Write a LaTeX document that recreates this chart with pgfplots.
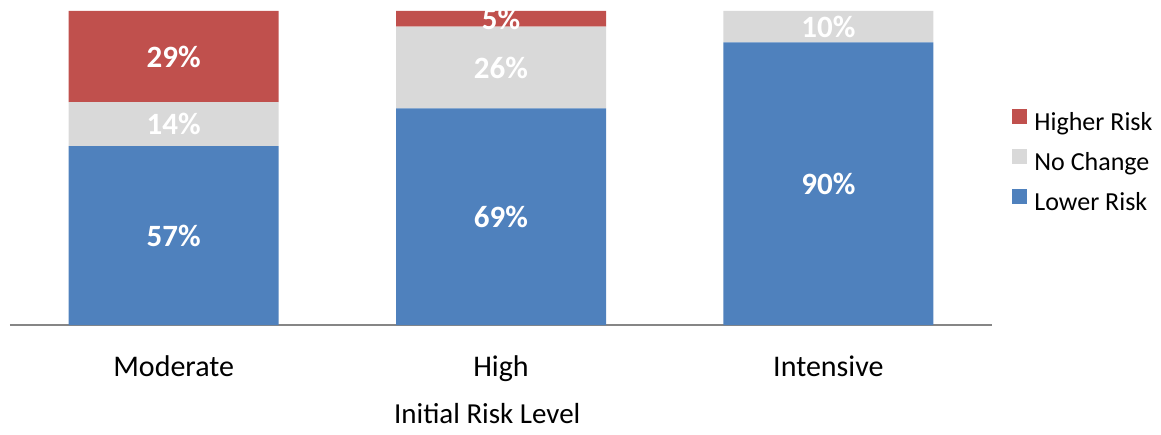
\documentclass[border=0pt]{standalone}
\usepackage{pgfplots}
\pgfplotsset{compat=1.18}
\usepackage{fontspec}
\setmainfont{Carlito}

\definecolor{lowblue}{HTML}{4F81BD}
\definecolor{nochgray}{HTML}{D9D9D9}
\definecolor{highred}{HTML}{C0504D}
\definecolor{axisgray}{HTML}{868686}

% shared geometry of the bar axis and the label overlay
\pgfplotsset{
  riskframe/.style={
    scale only axis,
    width=491pt, height=157pt,
    xmin=-0.5, xmax=2.5, ymin=0, ymax=100,
    at={(5pt,54.5pt)}, anchor=south west,
  },
}

\begin{document}
\begin{tikzpicture}
\path[use as bounding box] (0,0) rectangle (580.5pt,217pt);
\clip (0,0) rectangle (580.5pt,211.5pt);

\begin{axis}[
  riskframe,
  ybar stacked, bar width=105pt,
  axis x line*=bottom, axis y line=none,
  x axis line style={draw=axisgray, line width=0.8pt, -},
  xtick={0,1,2}, xticklabels={Moderate,High,Intensive},
  xtick style={draw=none},
  xticklabel style={font=\fontsize{15}{18}\selectfont, anchor=base, yshift=-25.8pt},
  xlabel={Initial Risk Level},
  xlabel style={font=\fontsize{14.5}{17}\selectfont, at={(axis description cs:0.486,0)}, anchor=base, yshift=-49pt},
  legend style={draw=none, fill=none, at={(axis description cs:1.0204,0.688)}, anchor=north west,
    inner sep=0pt, font=\fontsize{13}{15}\selectfont, cells={anchor=west}, row sep=6.5pt,
    nodes={inner sep=0pt, text height=9pt, text depth=3pt}},
  legend image code/.code={\fill[#1] (0pt,0pt) rectangle (7.5pt,7.5pt); \path (11pt,0pt);},
  reverse legend,
]
\addplot[fill=lowblue, draw=none] coordinates {(0,57) (1,69) (2,90)};
\addlegendentry{Lower Risk}
\addplot[fill=nochgray, draw=none] coordinates {(0,14) (1,26) (2,10)};
\addlegendentry{No Change}
\addplot[fill=highred, draw=none] coordinates {(0,29) (1,5) (2,0)};
\addlegendentry{Higher Risk}
\end{axis}

% segment labels, centred in each stacked segment
\begin{axis}[
  riskframe, hide axis, clip=false,
  nodes near coords={\pgfplotspointmeta\%},
  point meta=explicit symbolic,
  every node near coord/.style={anchor=center, text=white, inner sep=0pt,
    font=\bfseries\fontsize{15.5}{18}\selectfont},
]
\addplot[draw=none, mark=none] coordinates {(0,28.5) [57] (1,34.5) [69] (2,45) [90]};
\addplot[draw=none, mark=none] coordinates {(0,64) [14] (1,82) [26] (2,95) [10]};
\addplot[draw=none, mark=none] coordinates {(0,85.5) [29] (1,97.5) [5]};
\end{axis}
\end{tikzpicture}
\end{document}
